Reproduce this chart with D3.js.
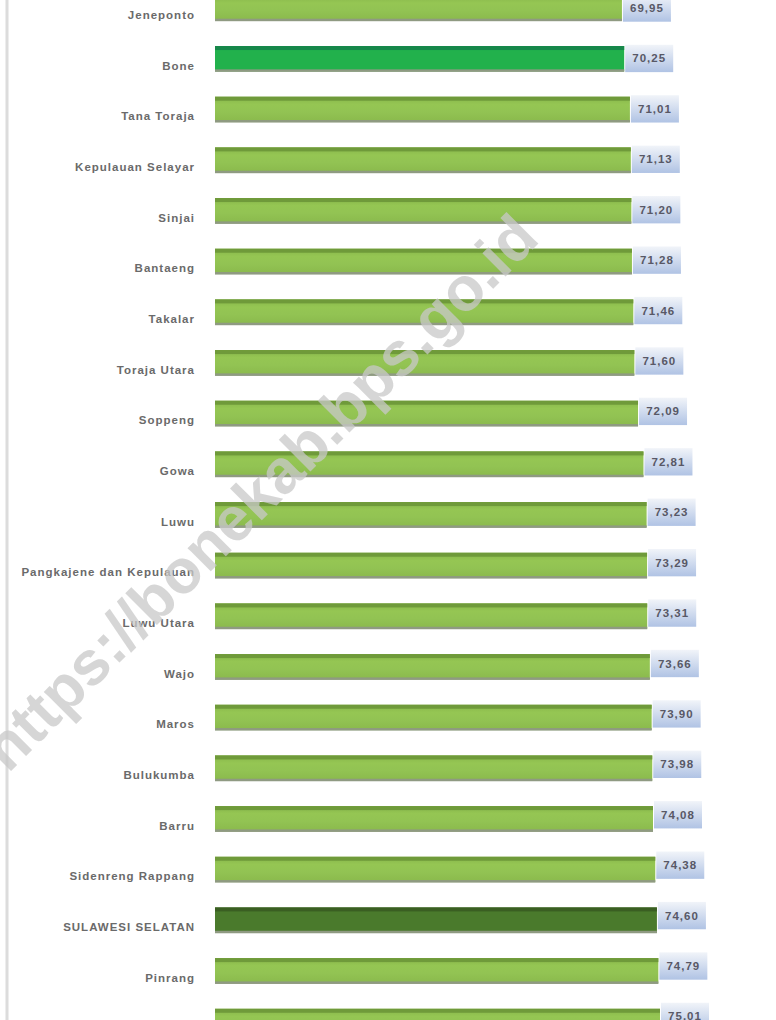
<!DOCTYPE html>
<html><head><meta charset="utf-8">
<script src="https://cdn.jsdelivr.net/npm/d3@7"></script>
<style>body{margin:0;background:#fff}svg{display:block}</style>
</head><body>
<svg id="chart" width="776" height="1020"></svg>
<script>
const categories = ["Jeneponto","Bone","Tana Toraja","Kepulauan Selayar","Sinjai","Bantaeng","Takalar","Toraja Utara","Soppeng","Gowa","Luwu","Pangkajene dan Kepulauan","Luwu Utara","Wajo","Maros","Bulukumba","Barru","Sidenreng Rappang","SULAWESI SELATAN","Pinrang","Enrekang"];
const values = [69.95,70.25,71.01,71.13,71.20,71.28,71.46,71.60,72.09,72.81,73.23,73.29,73.31,73.66,73.90,73.98,74.08,74.38,74.60,74.79,75.01];
const valueLabels = ["69,95","70,25","71,01","71,13","71,20","71,28","71,46","71,60","72,09","72,81","73,23","73,29","73,31","73,66","73,90","73,98","74,08","74,38","74,60","74,79","75,01"];
const highlight = {"Bone":"#22b14c","SULAWESI SELATAN":"#4a7a2c"};

const svg = d3.select("#chart");
const step = 50.67;
const y = d3.scaleBand().domain(categories).range([-17.3, -17.3 + step*categories.length]).paddingInner(0.5).paddingOuter(0.25);
const x = d3.scaleLinear().domain([15.85, 75.01]).range([215, 660]);
const bh = y.bandwidth();

const defs = svg.append("defs");
const g1 = defs.append("linearGradient").attr("id","lbl").attr("x1",0).attr("y1",0).attr("x2",0).attr("y2",1);
g1.append("stop").attr("offset","0%").attr("stop-color","#f1f4f9");
g1.append("stop").attr("offset","100%").attr("stop-color","#b0c3e4");
const g2 = defs.append("linearGradient").attr("id","bar").attr("x1",0).attr("y1",0).attr("x2",0).attr("y2",1);
[["0%","#86b54a"],["30%","#95c653"],["60%","#92c353"],["100%","#8ab94c"]].forEach(s=>g2.append("stop").attr("offset",s[0]).attr("stop-color",s[1]));

// left border line
svg.append("line").attr("x1",7).attr("x2",7).attr("y1",0).attr("y2",1020).attr("stroke","#dcdcdc").attr("stroke-width",3);

const rows = svg.append("g").selectAll("g").data(categories).join("g")
  .attr("transform", d => `translate(0,${y(d)})`);

rows.append("rect").attr("x", x(15.85)).attr("y", 0)
  .attr("width", (d,i) => x(values[i]) - x(15.85)).attr("height", bh)
  .attr("fill", d => highlight[d] || "url(#bar)");
rows.append("rect").attr("x", x(15.85)).attr("y", 0)
  .attr("width", (d,i) => x(values[i]) - x(15.85)).attr("height", 4)
  .attr("fill", d => d==="Bone" ? "#16874a" : (d==="SULAWESI SELATAN" ? "#3a5e22" : "#6f9a3a"));
rows.append("rect").attr("x", x(15.85)).attr("y", bh-2)
  .attr("width", (d,i) => x(values[i]) - x(15.85)).attr("height", 2.5)
  .attr("fill", "#8f9a82");

rows.append("text").attr("x", 195).attr("y", bh/2 + 7).attr("dy","0.35em")
  .attr("text-anchor","end").attr("font-family","Liberation Sans, Arial, sans-serif")
  .attr("font-size",11.5).attr("font-weight","bold").attr("letter-spacing",1).attr("fill","#6a6a6a").text(d => d);

const off = i => -i*0.25;
rows.append("rect").attr("x",(d,i)=>x(values[i])+1).attr("y",(d,i)=> -1 + off(i)).attr("width",48).attr("height",bh+2)
  .attr("fill","url(#lbl)");
rows.append("text").attr("x",(d,i)=>x(values[i])+25).attr("y",(d,i)=> bh/2 + off(i)).attr("dy","0.35em")
  .attr("text-anchor","middle").attr("font-family","Liberation Sans, Arial, sans-serif")
  .attr("font-size",11.5).attr("font-weight","bold").attr("letter-spacing",1).attr("fill","#585866").text((d,i)=>valueLabels[i]);

// watermark on top
svg.append("text").attr("transform","translate(8,774) rotate(-45)")
  .attr("font-family","Liberation Sans, Arial, sans-serif").attr("font-size",62).attr("font-weight","bold")
  .attr("fill","#c8c8c8").attr("fill-opacity",0.75).text("https://bonekab.bps.go.id");
</script>
</body></html>
